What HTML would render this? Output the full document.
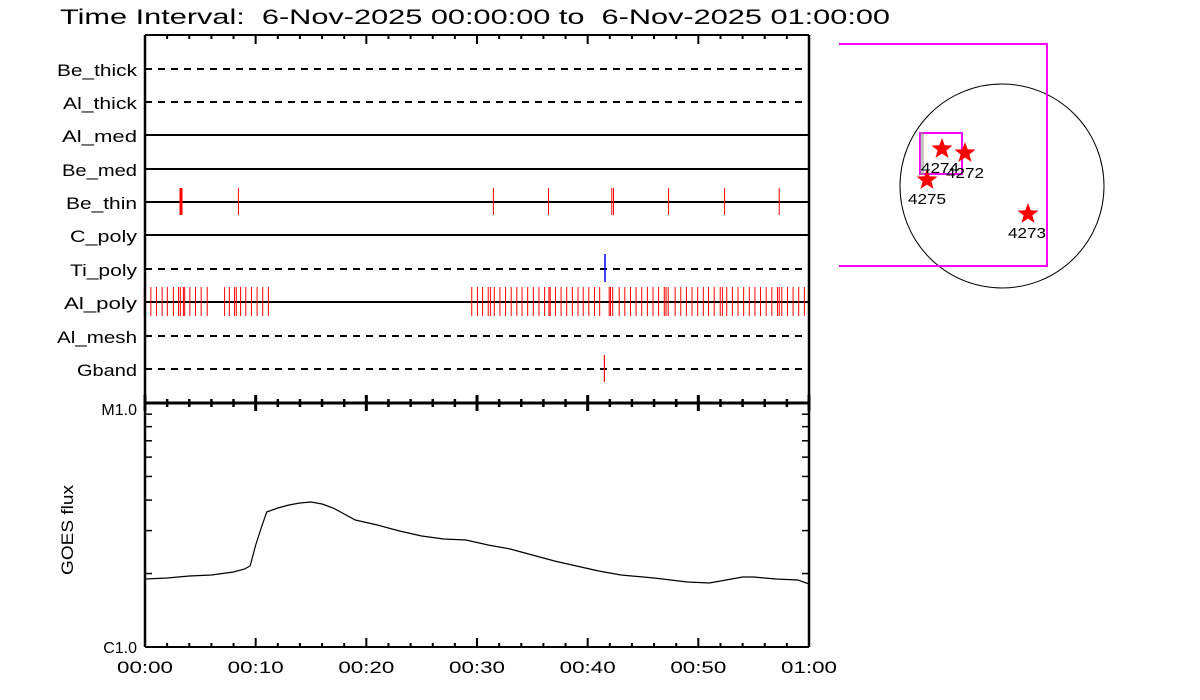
<!DOCTYPE html>
<html><head><meta charset="utf-8"><style>
html,body{margin:0;padding:0;background:#fff;width:1200px;height:700px;overflow:hidden}
svg{display:block}
text{font-family:"Liberation Sans",sans-serif;fill:#000}
</style></head><body>
<svg id="s" width="1200" height="700" viewBox="0 0 1200 700" xmlns="http://www.w3.org/2000/svg">
<g id="g"></g>
</svg>
<script>
var g=document.getElementById('g'),h='';
function L(x1,y1,x2,y2,c,w,d){h+='<line x1="'+x1+'" y1="'+y1+'" x2="'+x2+'" y2="'+y2+'" stroke="'+c+'" stroke-width="'+w+'"'+(d?' stroke-dasharray="'+d+'"':'')+'/>';}
function T(x,y,s,sz,len){h+='<text x="'+x+'" y="'+y+'" font-size="'+sz+'" textLength="'+len+'" lengthAdjust="spacingAndGlyphs">'+s+'</text>';}
T(60,24,'Time Interval:&#160; 6-Nov-2025 00:00:00 to&#160; 6-Nov-2025 01:00:00',21,830);
var X0=145,X1=809;
var rows=[['Be_thick',69,1,57],['Al_thick',102,1,63],['Al_med',135,0,62],['Be_med',169,0,62],['Be_thin',202,0,66],['C_poly',235,0,70],['Ti_poly',269,1,70],['Al_poly',302,0,64],['Al_mesh',336,1,57],['Gband',369,1,77]];
rows.forEach(function(r){L(X0,r[1],X1,r[1],'#000',2,r[2]?'7,6':null);T(r[3],r[1]+7,r[0],17,137-r[3]);});
[238.4,493.4,548.5,611.8,613.5,668.6,724.6,779.2].forEach(function(x){L(x,188,x,215,'red',1);});
L(181,188,181,215,'red',3);
L(605,254,605,282,'#0000ff',1.5);
L(604.4,355,604.4,382,'red',1.2);
var z=[10,25,38,51,63,77,89,93,100,103,115,128,141,155,195,206,218,222,232,244,257,270,283,296,765,778,790,803,808,817,830,843,856,869,881,894,907,920,933,943,946,958,971,984,997,1010,1022,1035,1048,1060,1082,1085,1090,1105,1118,1131,1144,1157,1170,1183,1196,1209,1213,1218,1234,1247,1260,1273,1286,1299,1311,1324,1338,1343,1353,1366,1379,1392,1405,1418,1431,1444,1457,1470,1474,1480,1493,1506,1519,1532,1542];
z.forEach(function(v){var x=140+v/2.306;L(x,287,x,316,'red',1);});
L(X0,35,X0,647,'#000',2.5);L(X1,35,X1,647,'#000',2.5);L(X0,35,X1,35,'#000',2);
L(X0,403,X1,403,'#000',3);L(X0,647,X1,647,'#000',2);
for(var m=0;m<=60;m+=2){var x=X0+(X1-X0)*m/60,big=m%10==0;L(x,big?395:399,x,big?411:407,'#000',big?3:2.5);
 L(x,647,x,big?638:643,'#000',2);L(x,35,x,big?44:39,'#000',2);}
for(var m=0;m<=60;m+=10){T(X0+(X1-X0)*m/60-28,673,('0'+Math.floor(m/60)).slice(-2)+':'+('0'+m%60).slice(-2),17,56);}
for(var k=2;k<=9;k++){var y=647-244*Math.log10(k);L(X0,y,X0+7,y,'#000',1.5);L(X1,y,X1-7,y,'#000',1.5);}
h+='<text x="137" y="415" font-size="16" text-anchor="end">M1.0</text>';
h+='<text x="137" y="653" font-size="16" text-anchor="end">C1.0</text>';
h+='<text x="0" y="0" font-size="17" textLength="90" lengthAdjust="spacingAndGlyphs" transform="translate(73 575) rotate(-90)">GOES flux</text>';
var pts=[[0,579],[2,578],[4,576],[6,575],[8,572],[9,569],[9.5,566],[10,545],[10.5,528],[11,512],[12,508],[13,505],[14,503],[15,502],[16,504],[17,508],[18,514],[19,520],[21,525],[23,531],[25,536],[27,539],[29,540],[31,545],[33,549],[35,555],[37,561],[39,566],[41,571],[43,575],[46,578],[49,582],[51,583],[52,581],[54,577],[55,577],[57,579],[59,580],[60,584]];
h+='<polyline fill="none" stroke="#000" stroke-width="1.2" points="'+pts.map(function(p){return (X0+(X1-X0)*p[0]/60).toFixed(1)+','+p[1]}).join(' ')+'"/>';
h+='<circle cx="1002" cy="186" r="102" fill="none" stroke="#000" stroke-width="1"/>';
h+='<polyline fill="none" stroke="#ff00ff" stroke-width="2" points="839,44 1047,44 1047,266 839,266"/>';
h+='<rect x="920" y="133" width="42" height="41" fill="none" stroke="#ff00ff" stroke-width="2"/>';
h+='<rect x="921" y="133" width="2" height="41" fill="none" stroke="#888" stroke-width="1"/>';
function star(cx,cy,r){var p=[];for(var i=0;i<10;i++){var a=-Math.PI/2+i*Math.PI/5,rr=i%2?r*0.42:r;p.push((cx+rr*Math.cos(a)).toFixed(1)+','+(cy+rr*Math.sin(a)).toFixed(1));}h+='<polygon points="'+p.join(' ')+'" fill="red"/>';}
star(942,149,11);star(965,153,11);star(927,180,11);star(1028,214,11);
T(921,173,'4274',15,38);T(946,178,'4272',15,38);T(908,204,'4275',15,38);T(1008,238,'4273',15,38);
g.innerHTML=h;
</script>
</body></html>
